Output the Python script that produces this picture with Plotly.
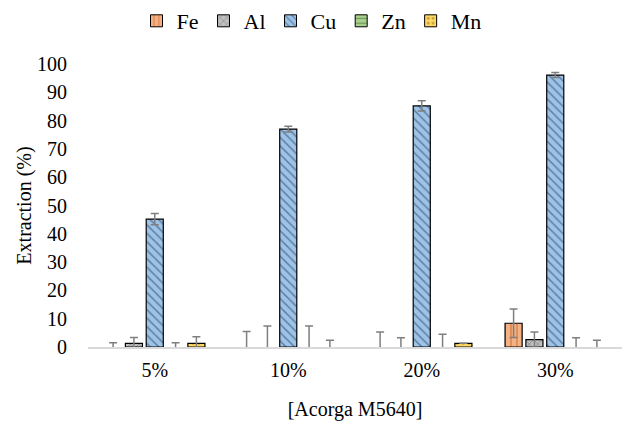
import plotly.graph_objects as go

categories = ["5%", "10%", "20%", "30%"]
metals = ["Fe", "Al", "Cu", "Zn", "Mn"]

fe = [0, 0, 0, 8.4]
al = [1.3, 0, 0, 2.6]
cu = [45.2, 77.0, 85.2, 96.1]
zn = [0, 0, 0, 0]
mn = [1.3, 0, 1.3, 0]

fe_err = [1.5, 5.5, 5.3, 5.0]
al_err = [2.1, 7.4, 3.3, 2.7]
cu_err = [2.0, 1.0, 1.8, 0.9]
zn_err = [1.5, 7.4, 4.5, 3.3]
mn_err = [2.3, 2.4, 0.0, 2.4]

values = [fe, al, cu, zn, mn]
errors = [fe_err, al_err, cu_err, zn_err, mn_err]
colors = ["#F4B183", "#BFBFBF", "#9DC3E6", "#A9D18E", "#FFD966"]
shapes = ["|", "x", "\\", "-", "."]
pat_colors = ["#C55A11", "#595959", "#1F3864", "#385723", "#7F6000"]

FONT = "Times New Roman"
f20 = dict(family=FONT, size=20, color="#000000", weight=400)

fig = go.Figure()
for name, v, e, c, s, pc in zip(metals, values, errors, colors, shapes, pat_colors):
    pattern = dict(shape=s, fgcolor=pc, size=6, solidity=0.25)
    fig.add_trace(go.Bar(
        name=name, x=categories, y=v, showlegend=False,
        marker=dict(color=c,
                    line=dict(color="#000000", width=[0 if val == 0 else 1.2 for val in v]),
                    pattern=pattern),
        error_y=dict(type="data", array=e, symmetric=True, visible=True,
                     color="#7F7F7F", thickness=1.5, width=4),
    ))
    # legend entry on a hidden overlay axis (its bar lies outside that axis range)
    fig.add_trace(go.Bar(
        name=name, x=[categories[0]], y=[0], xaxis="x2", yaxis="y2",
        marker=dict(color=c, line=dict(color="#000000", width=1), pattern=pattern),
    ))

fig.update_layout(
    width=623, height=421,
    paper_bgcolor="white", plot_bgcolor="white",
    margin=dict(l=88, r=1, t=64, b=74),
    barmode="group", bargap=0.22, bargroupgap=0.18,
    font=f20,
    showlegend=True,
    legend=dict(orientation="h", xref="container", x=0.5, xanchor="center",
                yref="container", y=1.0, yanchor="top",
                font=dict(family=FONT, size=22, color="#000000", weight=400), itemwidth=30,
                tracegroupgap=0, traceorder="normal"),
    xaxis=dict(showline=True, linecolor="#D9D9D9", linewidth=2,
               ticks="outside", ticklen=4, tickcolor="rgba(0,0,0,0)",
               tickfont=f20,
               title=dict(text="[Acorga M5640]", font=f20, standoff=22),
               showgrid=False),
    yaxis=dict(range=[0, 100], dtick=10, showgrid=False, zeroline=False,
               showline=False, ticks="outside", ticklen=16, tickcolor="rgba(0,0,0,0)",
               tickfont=f20,
               title=dict(text="Extraction (%)", font=f20, standoff=0)),
    xaxis2=dict(overlaying="x", visible=False),
    yaxis2=dict(overlaying="y", visible=False, range=[1, 2]),
)

fig.write_html("out.html")
